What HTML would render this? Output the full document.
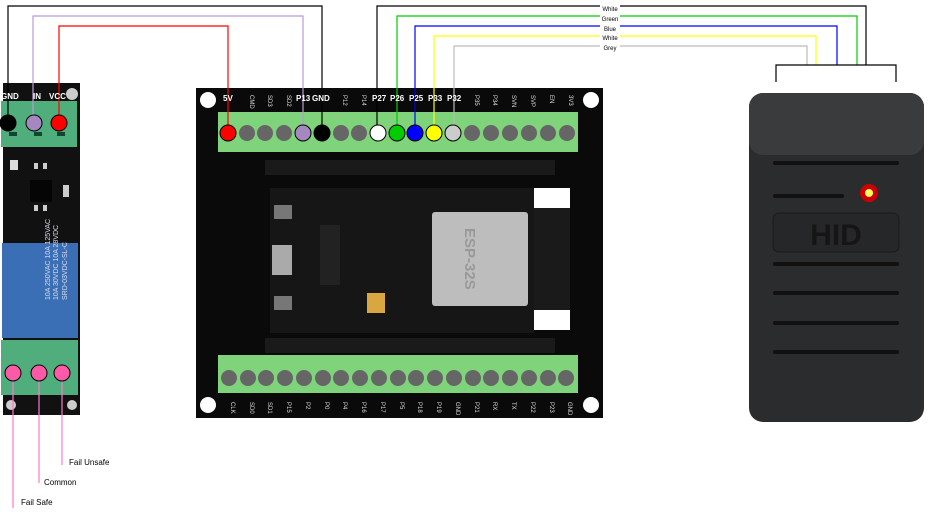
<!DOCTYPE html>
<html><head><meta charset="utf-8"><style>
html,body{margin:0;padding:0;background:#fff;width:934px;height:516px;overflow:hidden}
svg{display:block;font-family:"Liberation Sans",sans-serif}
</style></head><body>
<svg width="934" height="516" viewBox="0 0 934 516" xmlns="http://www.w3.org/2000/svg">
<!-- RELAY -->
<rect x="3" y="83" width="77" height="332" fill="#111"/>
<circle cx="72" cy="94" r="6" fill="#ccc"/>
<rect x="1" y="101" width="76" height="46" fill="#4fae7c"/>
<rect x="9" y="132" width="8" height="4" fill="#143"/><rect x="34" y="132" width="8" height="4" fill="#143"/><rect x="57" y="132" width="8" height="4" fill="#143"/>
<rect x="10" y="160" width="8" height="10" fill="#ddd"/>
<rect x="30" y="180" width="22" height="22" fill="#050505"/>
<rect x="34" y="163" width="4" height="6" fill="#ccc"/><rect x="43" y="163" width="4" height="6" fill="#ccc"/>
<rect x="34" y="205" width="4" height="6" fill="#ccc"/><rect x="43" y="205" width="4" height="6" fill="#ccc"/>
<rect x="63" y="185" width="6" height="12" fill="#ccc"/>
<rect x="2" y="243" width="76" height="95" fill="#3a6fb5"/>
<text transform="translate(50,300) rotate(-90)" font-size="7" fill="#dde">10A 250VAC 10A 125VAC</text>
<text transform="translate(58,300) rotate(-90)" font-size="7" fill="#dde">10A 30VDC 10A 28VDC</text>
<text transform="translate(67,300) rotate(-90)" font-size="7" fill="#dde">SRD-03VDC-SL-C</text>
<rect x="1" y="340" width="77" height="55" fill="#4fae7c"/>
<circle cx="11" cy="405" r="5" fill="#ccc"/><circle cx="72" cy="405" r="5" fill="#ccc"/>
<!-- ESP BOARD -->
<rect x="196" y="88" width="407" height="330" fill="#0a0a0a"/>
<circle cx="208" cy="100" r="8" fill="#fff"/><circle cx="591" cy="100" r="8" fill="#fff"/>
<circle cx="208" cy="405" r="8" fill="#fff"/><circle cx="591" cy="405" r="8" fill="#fff"/>
<rect x="218" y="112" width="360" height="40" fill="#7fd37a"/>
<rect x="218" y="355" width="360" height="38" fill="#7fd37a"/>
<rect x="265" y="160" width="290" height="15" fill="#1a1a1a"/>
<rect x="265" y="338" width="290" height="15" fill="#1a1a1a"/>
<rect x="270" y="188" width="264" height="145" fill="#161616"/>
<rect x="534" y="188" width="36" height="20" fill="#fff"/>
<rect x="534" y="208" width="36" height="102" fill="#1a1a1a"/>
<rect x="534" y="310" width="36" height="20" fill="#fff"/>
<rect x="432" y="212" width="96" height="94" rx="3" fill="#bdbdbd"/>
<text transform="translate(465,228) rotate(90)" font-size="15" font-weight="bold" fill="#999">ESP-32S</text>
<rect x="320" y="225" width="20" height="60" fill="#222"/>
<rect x="272" y="245" width="20" height="30" fill="#aaa"/>
<rect x="274" y="205" width="18" height="14" fill="#777"/><rect x="274" y="296" width="18" height="14" fill="#777"/>
<rect x="367" y="293" width="18" height="20" fill="#d9a640"/>
<g fill="#666">
<circle cx="228" cy="133" r="8"/><circle cx="247" cy="133" r="8"/><circle cx="265" cy="133" r="8"/><circle cx="284" cy="133" r="8"/>
<circle cx="341" cy="133" r="8"/><circle cx="359" cy="133" r="8"/><circle cx="472" cy="133" r="8"/><circle cx="491" cy="133" r="8"/><circle cx="510" cy="133" r="8"/><circle cx="529" cy="133" r="8"/><circle cx="548" cy="133" r="8"/><circle cx="567" cy="133" r="8"/>
<circle cx="229" cy="378" r="8"/><circle cx="248" cy="378" r="8"/><circle cx="266" cy="378" r="8"/><circle cx="285" cy="378" r="8"/><circle cx="304" cy="378" r="8"/><circle cx="323" cy="378" r="8"/><circle cx="341" cy="378" r="8"/><circle cx="360" cy="378" r="8"/><circle cx="379" cy="378" r="8"/><circle cx="398" cy="378" r="8"/><circle cx="416" cy="378" r="8"/><circle cx="435" cy="378" r="8"/><circle cx="454" cy="378" r="8"/><circle cx="473" cy="378" r="8"/><circle cx="491" cy="378" r="8"/><circle cx="510" cy="378" r="8"/><circle cx="529" cy="378" r="8"/><circle cx="548" cy="378" r="8"/><circle cx="566" cy="378" r="8"/>
</g>
<g font-size="6" fill="#ddd">
<text transform="translate(231,402) rotate(90)">CLK</text><text transform="translate(250,402) rotate(90)">SD0</text><text transform="translate(268,402) rotate(90)">SD1</text><text transform="translate(287,402) rotate(90)">P15</text><text transform="translate(306,402) rotate(90)">P2</text><text transform="translate(325,402) rotate(90)">P0</text><text transform="translate(343,402) rotate(90)">P4</text><text transform="translate(362,402) rotate(90)">P16</text><text transform="translate(381,402) rotate(90)">P17</text><text transform="translate(400,402) rotate(90)">P5</text><text transform="translate(418,402) rotate(90)">P18</text><text transform="translate(437,402) rotate(90)">P19</text><text transform="translate(456,402) rotate(90)">GND</text><text transform="translate(475,402) rotate(90)">P21</text><text transform="translate(493,402) rotate(90)">RX</text><text transform="translate(512,402) rotate(90)">TX</text><text transform="translate(531,402) rotate(90)">P22</text><text transform="translate(550,402) rotate(90)">P23</text><text transform="translate(568,402) rotate(90)">GND</text>
<text transform="translate(250,95) rotate(90)">CMD</text><text transform="translate(268,95) rotate(90)">SD3</text><text transform="translate(287,95) rotate(90)">SD2</text><text transform="translate(343,95) rotate(90)">P12</text><text transform="translate(362,95) rotate(90)">P14</text><text transform="translate(475,95) rotate(90)">P35</text><text transform="translate(493,95) rotate(90)">P34</text><text transform="translate(512,95) rotate(90)">SVN</text><text transform="translate(531,95) rotate(90)">SVP</text><text transform="translate(550,95) rotate(90)">EN</text><text transform="translate(569,95) rotate(90)">3V3</text>
</g>
<!-- HID -->
<rect x="749" y="93" width="175" height="329" rx="14" fill="#2b2c2e"/>
<rect x="749" y="93" width="175" height="62" rx="14" fill="#3a3b3d"/>
<g stroke="#111" stroke-width="4" stroke-linecap="round">
<line x1="775" y1="163" x2="897" y2="163"/><line x1="775" y1="196" x2="842" y2="196"/>
<line x1="775" y1="264" x2="897" y2="264"/><line x1="775" y1="293" x2="897" y2="293"/><line x1="775" y1="323" x2="897" y2="323"/><line x1="775" y1="352" x2="897" y2="352"/>
</g>
<rect x="773" y="213" width="126" height="39" rx="6" fill="#262729" stroke="#1a1a1a"/>
<text x="836" y="245" font-size="30" font-weight="bold" text-anchor="middle" fill="#151515">HID</text>
<circle cx="869" cy="193" r="9" fill="#c00"/><circle cx="869" cy="193" r="4" fill="#ff5"/>
<!-- WIRES -->
<g fill="none" stroke-width="1.2">
<polyline points="8,120 8,6 322,6 322,133" stroke="#000"/>
<polyline points="33,120 33,16 303,16 303,133" stroke="#b99ad3"/>
<polyline points="59,120 59,26 228,26 228,133" stroke="#f00"/>
<polyline points="377,133 377,6 866,6 866,65" stroke="#000"/>
<polyline points="397,133 397,16 857,16 857,65" stroke="#0c0"/>
<polyline points="415,133 415,26 837,26 837,65" stroke="#00f"/>
<polyline points="434,133 434,36 816,36 816,65" stroke="#ff0"/>
<polyline points="454,133 454,46 807,46 807,65" stroke="#bbb"/>
<polyline points="776,82 776,65 896,65 896,82" stroke="#000"/>
<line x1="13" y1="373" x2="13" y2="508" stroke="#f7c"/>
<line x1="39" y1="373" x2="39" y2="483" stroke="#f7c"/>
<line x1="62" y1="373" x2="62" y2="465" stroke="#f7c"/>
</g>
<g stroke="#000" stroke-width="1">
<circle cx="8" cy="123" r="8" fill="#000"/><circle cx="34" cy="123" r="8" fill="#a688c0"/><circle cx="59" cy="123" r="8" fill="#f00"/>
<circle cx="13" cy="373" r="8" fill="#ff5aa8"/><circle cx="39" cy="373" r="8" fill="#ff5aa8"/><circle cx="62" cy="373" r="8" fill="#ff5aa8"/>
<circle cx="228" cy="133" r="8" fill="#f00"/><circle cx="303" cy="133" r="8" fill="#a688c0"/><circle cx="322" cy="133" r="8" fill="#000"/>
<circle cx="378" cy="133" r="8" fill="#fff"/><circle cx="397" cy="133" r="8" fill="#0c0"/><circle cx="415" cy="133" r="8" fill="#00f"/><circle cx="434" cy="133" r="8" fill="#ff0"/><circle cx="453" cy="133" r="8" fill="#ccc"/>
</g>
<g font-size="8" fill="#fff" font-weight="bold">
<text x="1" y="99">GND</text><text x="33" y="99">IN</text><text x="49" y="99">VCC</text>
<text x="223" y="101">5V</text><text x="296" y="101">P13</text><text x="312" y="101">GND</text>
<text x="372" y="101">P27</text><text x="390" y="101">P26</text><text x="409" y="101">P25</text><text x="428" y="101">P33</text><text x="447" y="101">P32</text>
</g>
<g font-size="6" fill="#000" text-anchor="middle">
<rect x="600" y="4" width="20" height="5" fill="#fff"/><text x="610" y="11">White</text>
<rect x="600" y="14" width="20" height="5" fill="#fff"/><text x="610" y="21">Green</text>
<rect x="600" y="24" width="20" height="5" fill="#fff"/><text x="610" y="31">Blue</text>
<rect x="600" y="34" width="20" height="5" fill="#fff"/><text x="610" y="40">White</text>
<rect x="600" y="44" width="20" height="5" fill="#fff"/><text x="610" y="50">Grey</text>
</g>
<g font-size="8" fill="#000">
<text x="69" y="465">Fail Unsafe</text><text x="44" y="485">Common</text><text x="21" y="505">Fail Safe</text>
</g>
</svg>
</body></html>
